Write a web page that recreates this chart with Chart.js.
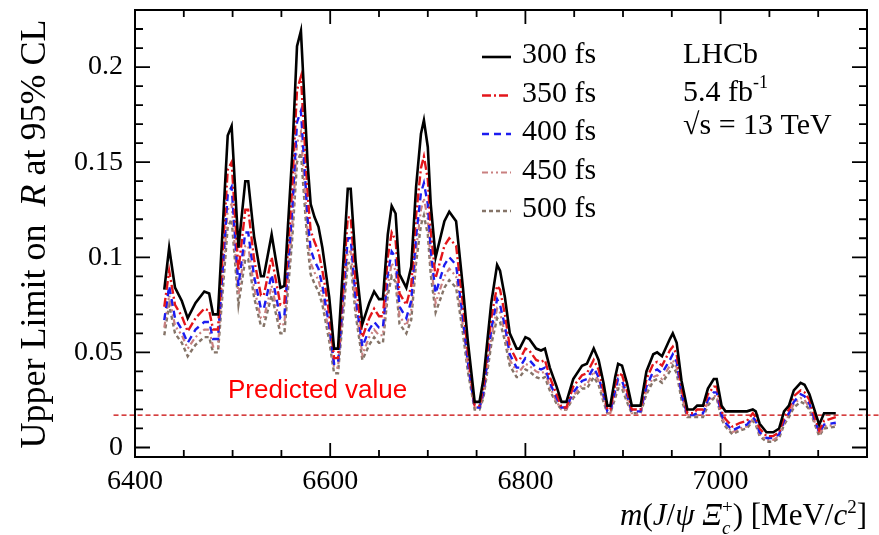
<!DOCTYPE html>
<html lang="en">
<head>
<meta charset="UTF-8">
<title>Upper limit on R at 95% CL</title>
<script src="https://cdn.jsdelivr.net/npm/chart.js"></script>
<style>
    html, body { margin: 0; padding: 0; background: #fff; }
    .wrap { width: 879px; height: 535px; }
</style>
</head>
<body>
<div class="wrap"><canvas id="limitChart" width="879" height="535"></canvas></div>
<script>
// m(J/psi Xi_c+) in MeV/c^2, shared by every lifetime hypothesis
const masses = [6430,6435,6441,6448,6454,6462,6471,6476,6480,6485,
    6495,6499,6506,6513,6516,6522,6529,6532,6540,6549,
    6553,6561,6566,6570,6577,6580,6584,6588,6592,6595,
    6599,6604,6608,6618,6621,6626,6633,6640,6645,6650,
    6654,6659,6663,6667,6671,6678,6683,6688,6693,6696,
    6700,6703,6708,6717,6722,6729,6736,6741,6748,6753,
    6757,6765,6771,6774,6779,6784,6791,6794,6800,6804,
    6811,6816,6820,6825,6832,6837,6842,6849,6858,6863,
    6870,6875,6880,6884,6887,6892,6895,6899,6904,6909,
    6918,6924,6931,6935,6940,6948,6951,6955,6960,6966,
    6972,6976,6982,6987,6993,6996,7001,7005,7012,7020,
    7027,7033,7036,7040,7047,7054,7060,7065,7070,7075,
    7082,7086,7091,7096,7101,7106,7118];

const lim300 = [0.083,0.105,0.084,0.077,0.068,0.076,0.082,0.081,0.070,0.070,
    0.164,0.169,0.105,0.140,0.140,0.111,0.090,0.090,0.112,0.084,
    0.085,0.153,0.211,0.219,0.148,0.128,0.121,0.116,0.105,0.094,
    0.079,0.052,0.052,0.136,0.136,0.098,0.065,0.076,0.082,0.078,
    0.078,0.112,0.127,0.123,0.091,0.084,0.095,0.137,0.165,0.172,
    0.158,0.128,0.100,0.119,0.124,0.119,0.084,0.056,0.024,0.024,
    0.036,0.076,0.096,0.093,0.079,0.060,0.052,0.052,0.058,0.057,
    0.052,0.051,0.052,0.042,0.032,0.024,0.024,0.036,0.043,0.044,
    0.052,0.046,0.034,0.022,0.022,0.037,0.044,0.043,0.034,0.022,
    0.022,0.040,0.049,0.050,0.048,0.057,0.060,0.055,0.035,0.020,
    0.020,0.022,0.022,0.031,0.036,0.036,0.022,0.019,0.019,0.019,
    0.019,0.020,0.019,0.0125,0.008,0.008,0.010,0.019,0.022,0.030,
    0.034,0.033,0.028,0.020,0.012,0.018,0.018];

const lim350 = [0.074,0.093,0.075,0.069,0.061,0.068,0.073,0.072,0.062,0.062,
    0.146,0.150,0.093,0.125,0.125,0.099,0.080,0.080,0.100,0.075,
    0.076,0.136,0.188,0.195,0.132,0.114,0.108,0.103,0.093,0.084,
    0.070,0.047,0.047,0.121,0.121,0.087,0.058,0.068,0.073,0.069,
    0.069,0.100,0.113,0.109,0.081,0.075,0.085,0.122,0.147,0.153,
    0.141,0.114,0.089,0.106,0.110,0.106,0.075,0.050,0.022,0.022,
    0.032,0.068,0.085,0.083,0.070,0.053,0.046,0.046,0.052,0.051,
    0.046,0.045,0.046,0.037,0.028,0.021,0.021,0.032,0.038,0.039,
    0.046,0.041,0.030,0.020,0.020,0.033,0.039,0.038,0.030,0.020,
    0.020,0.036,0.044,0.045,0.043,0.051,0.053,0.049,0.031,0.018,
    0.018,0.020,0.020,0.028,0.032,0.032,0.019,0.015,0.011,0.013,
    0.014,0.018,0.016,0.010,0.006,0.006,0.008,0.016,0.020,0.027,
    0.030,0.029,0.025,0.017,0.009,0.014,0.016];

const lim400 = [0.067,0.085,0.068,0.062,0.055,0.062,0.066,0.066,0.057,0.057,
    0.133,0.137,0.085,0.113,0.113,0.090,0.073,0.073,0.091,0.068,
    0.069,0.124,0.171,0.177,0.120,0.104,0.098,0.094,0.085,0.076,
    0.064,0.044,0.044,0.110,0.110,0.079,0.053,0.062,0.066,0.063,
    0.063,0.091,0.103,0.100,0.074,0.068,0.077,0.111,0.134,0.139,
    0.128,0.104,0.081,0.096,0.100,0.096,0.068,0.045,0.021,0.021,
    0.029,0.062,0.078,0.075,0.064,0.049,0.042,0.042,0.047,0.046,
    0.042,0.041,0.042,0.034,0.026,0.021,0.021,0.029,0.035,0.036,
    0.042,0.037,0.028,0.019,0.019,0.030,0.036,0.035,0.028,0.019,
    0.019,0.032,0.040,0.041,0.039,0.046,0.049,0.045,0.028,0.017,
    0.017,0.018,0.018,0.025,0.029,0.029,0.017,0.013,0.009,0.011,
    0.012,0.016,0.014,0.008,0.005,0.005,0.007,0.014,0.018,0.024,
    0.028,0.027,0.023,0.015,0.008,0.012,0.013];

const lim450 = [0.063,0.080,0.064,0.059,0.052,0.058,0.062,0.062,0.053,0.053,
    0.125,0.128,0.080,0.106,0.106,0.084,0.068,0.068,0.085,0.064,
    0.065,0.116,0.160,0.166,0.112,0.097,0.092,0.088,0.080,0.071,
    0.060,0.042,0.042,0.103,0.103,0.074,0.049,0.058,0.062,0.059,
    0.059,0.085,0.097,0.093,0.069,0.064,0.072,0.104,0.125,0.131,
    0.120,0.097,0.076,0.090,0.094,0.090,0.064,0.043,0.021,0.021,
    0.027,0.058,0.073,0.071,0.060,0.046,0.040,0.040,0.044,0.043,
    0.040,0.039,0.040,0.032,0.024,0.020,0.020,0.027,0.033,0.033,
    0.040,0.035,0.026,0.018,0.018,0.028,0.033,0.033,0.026,0.018,
    0.018,0.030,0.037,0.038,0.036,0.043,0.046,0.042,0.027,0.017,
    0.017,0.017,0.017,0.024,0.027,0.027,0.016,0.012,0.008,0.010,
    0.011,0.015,0.013,0.007,0.004,0.004,0.006,0.013,0.017,0.023,
    0.026,0.025,0.021,0.014,0.007,0.011,0.012];

const lim500 = [0.059,0.075,0.060,0.055,0.048,0.054,0.058,0.058,0.050,0.050,
    0.116,0.120,0.075,0.099,0.099,0.079,0.064,0.064,0.080,0.060,
    0.060,0.109,0.150,0.155,0.105,0.091,0.086,0.082,0.075,0.067,
    0.056,0.039,0.039,0.097,0.097,0.070,0.046,0.054,0.058,0.055,
    0.055,0.080,0.090,0.087,0.065,0.060,0.067,0.097,0.117,0.122,
    0.112,0.091,0.071,0.084,0.088,0.084,0.060,0.040,0.020,0.020,
    0.026,0.054,0.068,0.066,0.056,0.043,0.037,0.037,0.041,0.040,
    0.037,0.036,0.037,0.030,0.023,0.020,0.020,0.026,0.031,0.031,
    0.037,0.033,0.024,0.018,0.018,0.026,0.031,0.031,0.024,0.018,
    0.018,0.028,0.035,0.036,0.034,0.040,0.043,0.039,0.025,0.016,
    0.016,0.016,0.016,0.022,0.026,0.026,0.015,0.011,0.007,0.009,
    0.010,0.014,0.012,0.006,0.003,0.003,0.005,0.012,0.016,0.021,
    0.024,0.023,0.020,0.013,0.006,0.010,0.011];

const seriesLabels = ['300 fs', '350 fs', '400 fs', '450 fs', '500 fs'];
const predictedValue = 0.017;
const predictedSpan = [6378, 7162];
const xTickLabels = [6400, 6600, 6800, 7000];
const yTickLabels = [0, 0.05, 0.1, 0.15, 0.2];

const SERIF = '"Liberation Serif", "Times New Roman", serif';

const styles = [
    { color: '#000000', dash: [], width: 2.6 },
    { color: '#e3161b', dash: [9, 3, 2, 3], width: 2.4 },
    { color: '#1c1cf0', dash: [7, 5], width: 2.4 },
    { color: '#c98080', dash: [6, 3, 2, 3, 2, 3], width: 2.2 },
    { color: '#857468', dash: [4, 3], width: 2.4 }
];

function points(ys) {
    return masses.map((m, i) => ({ x: m, y: ys[i] }));
}

const allSeries = [lim300, lim350, lim400, lim450, lim500];
const datasets = allSeries.map((ys, i) => ({
    label: seriesLabels[i],
    data: points(ys),
    borderColor: styles[i].color,
    borderDash: styles[i].dash,
    borderWidth: styles[i].width,
    pointRadius: 0,
    tension: 0,
    fill: false
}));
datasets.push({
    label: 'Predicted value',
    data: predictedSpan.map(x => ({ x: x, y: predictedValue })),
    borderColor: '#c80000',
    borderDash: [5, 3],
    borderWidth: 1.2,
    pointRadius: 0,
    clip: false
});

// draws a run of text pieces (italic / sub / sup) one after another
function drawRich(ctx, parts, x, y, size, align) {
    const fontFor = p => (p.i ? 'italic ' : '') + Math.round(size * (p.s || 1)) + 'px ' + SERIF;
    let total = 0;
    parts.forEach(p => {
        ctx.font = fontFor(p);
        p.w = ctx.measureText(p.t).width;
        if (!p.noAdv) total += p.w;
    });
    let cx = align === 'right' ? x - total : align === 'center' ? x - total / 2 : x;
    parts.forEach(p => {
        ctx.font = fontFor(p);
        ctx.fillText(p.t, cx, y + (p.dy || 0) * size);
        if (!p.noAdv) cx += p.w;
    });
}

const framePlugin = {
    id: 'frame',
    afterDraw(chart) {
        const ctx = chart.ctx;
        const a = chart.chartArea;
        const xs = chart.scales.x;
        const ys = chart.scales.y;
        ctx.save();
        ctx.strokeStyle = '#000';
        ctx.lineWidth = 2;
        ctx.strokeRect(a.left, a.top, a.right - a.left, a.bottom - a.top);

        // inward ticks on all four sides
        ctx.lineWidth = 1.8;
        ctx.beginPath();
        for (let m = 6400; m <= 7150; m += 50) {
            const px = xs.getPixelForValue(m);
            const len = m % 200 === 0 ? 14 : 7;
            ctx.moveTo(px, a.bottom); ctx.lineTo(px, a.bottom - len);
            ctx.moveTo(px, a.top); ctx.lineTo(px, a.top + len);
        }
        for (let k = 0; k <= 23; k++) {
            const py = ys.getPixelForValue(k / 100);
            const len = k % 5 === 0 ? 15 : 8;
            ctx.moveTo(a.left, py); ctx.lineTo(a.left + len, py);
            ctx.moveTo(a.right, py); ctx.lineTo(a.right - len, py);
        }
        ctx.stroke();

        // legend
        ctx.textBaseline = 'alphabetic';
        ctx.fillStyle = '#000';
        chart.data.datasets.slice(0, 5).forEach((ds, i) => {
            const base = 63 + i * 38.5;
            ctx.beginPath();
            ctx.setLineDash(ds.borderDash);
            ctx.strokeStyle = ds.borderColor;
            ctx.lineWidth = ds.borderWidth;
            ctx.moveTo(482, base - 6);
            ctx.lineTo(511, base - 6);
            ctx.stroke();
            ctx.setLineDash([]);
            ctx.font = '30px ' + SERIF;
            ctx.fillStyle = '#000';
            ctx.fillText(ds.label, 522, base);
        });

        // experiment label
        ctx.font = '30px ' + SERIF;
        ctx.fillText('LHCb', 683, 63);
        drawRich(ctx, [{ t: '5.4 fb' }, { t: '-1', s: 0.6, dy: -0.45 }], 683, 101, 30, 'left');
        ctx.font = '30px ' + SERIF;
        ctx.fillText('\u221As = 13 TeV', 683, 134);

        // predicted value note
        ctx.fillStyle = '#ff0000';
        ctx.font = '26px "Liberation Sans", Arial, sans-serif';
        ctx.fillText('Predicted value', 228, 398);

        // axis titles
        ctx.fillStyle = '#000';
        drawRich(ctx, [
            { t: 'm', i: 1 }, { t: '(' }, { t: 'J', i: 1 }, { t: '/' }, { t: '\u03C8', i: 1 },
            { t: ' ' }, { t: '\u039E', i: 1 },
            { t: 'c', i: 1, s: 0.62, dy: 0.28, noAdv: true }, { t: '+', s: 0.62, dy: -0.38 },
            { t: ') [MeV/' }, { t: 'c', i: 1 }, { t: '2', s: 0.62, dy: -0.4 }, { t: ']' }
        ], a.right, 525, 31, 'right');

        ctx.translate(45, 234);
        ctx.rotate(-Math.PI / 2);
        drawRich(ctx, [
            { t: 'Upper Limit on  ' }, { t: 'R', i: 1 }, { t: ' at 95% CL' }
        ], 0, 0, 36, 'center');
        ctx.restore();
    }
};

new Chart(document.getElementById('limitChart'), {
    type: 'line',
    data: { datasets: datasets },
    options: {
        responsive: false,
        animation: false,
        events: [],
        layout: { padding: { top: 10, right: 12, left: 0, bottom: 0 } },
        plugins: {
            legend: { display: false },
            tooltip: { enabled: false }
        },
        scales: {
            x: {
                type: 'linear',
                min: 6400,
                max: 7150,
                afterBuildTicks: s => { s.ticks = xTickLabels.map(v => ({ value: v })); },
                afterFit: s => { s.height = 78; s.paddingLeft = 0; s.paddingRight = 0; },
                grid: { display: false, drawTicks: false },
                border: { display: false },
                ticks: {
                    autoSkip: false,
                    maxRotation: 0,
                    padding: 8,
                    color: '#000',
                    font: { family: SERIF, size: 28 },
                    callback: v => String(v)
                }
            },
            y: {
                type: 'linear',
                min: -0.005,
                max: 0.23,
                afterBuildTicks: s => { s.ticks = yTickLabels.map(v => ({ value: v })); },
                afterFit: s => { s.width = 135; s.paddingTop = 0; s.paddingBottom = 0; },
                grid: { display: false, drawTicks: false },
                border: { display: false },
                ticks: {
                    autoSkip: false,
                    padding: 12,
                    color: '#000',
                    font: { family: SERIF, size: 28 },
                    callback: v => String(v)
                }
            }
        }
    },
    plugins: [framePlugin]
});
</script>
</body>
</html>
